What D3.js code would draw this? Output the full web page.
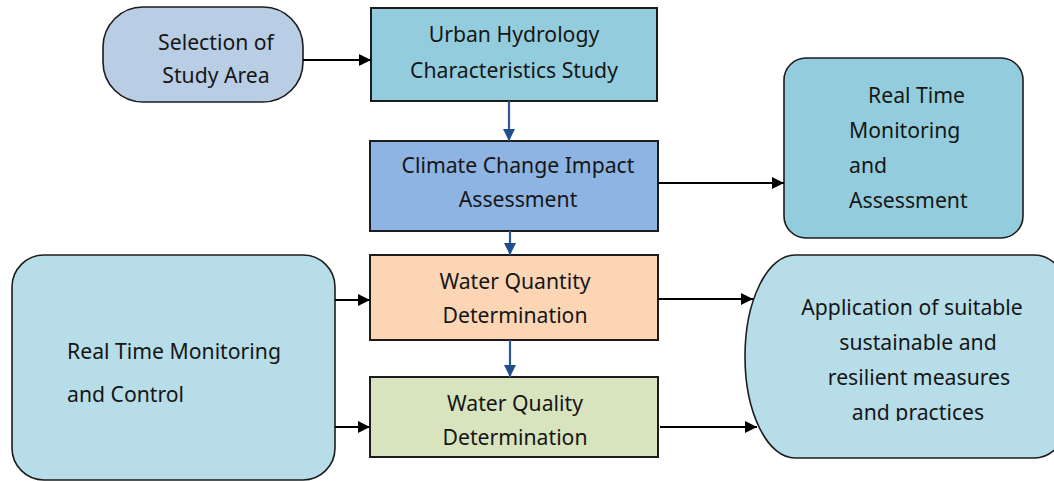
<!DOCTYPE html>
<html>
<head>
<meta charset="utf-8">
<script src="https://cdn.jsdelivr.net/npm/d3@7"></script>
<style>
  body { margin: 0; background: #fff; }
  svg { display: block; }
</style>
</head>
<body>
<svg id="chart" width="1054" height="481"></svg>
<script>
// node ids and labels (one entry per text line)
var nodeIds = ["select", "urban", "climate", "rtma", "quantity", "quality", "rtmc", "apply"];
var nodeLabels = [
  ["Selection of", "Study Area"],
  ["Urban Hydrology", "Characteristics Study"],
  ["Climate Change Impact", "Assessment"],
  ["Real Time", "Monitoring", "and", "Assessment"],
  ["Water Quantity", "Determination"],
  ["Water Quality", "Determination"],
  ["Real Time Monitoring", "and Control"],
  ["Application of suitable", "sustainable and", "resilient measures", "and practices"]
];
// links between nodes
var linkFrom = ["select", "urban", "climate", "climate", "quantity", "rtmc", "rtmc", "quantity", "quality"];
var linkTo   = ["urban", "climate", "rtma", "quantity", "quality", "quantity", "quality", "apply", "apply"];

// layout (kept apart from the data)
var layout = {
  select:   {x: 103, y: 7,   w: 200, h: 95,  shape: "pill",  fill: "#b9cde5", anchor: "middle", tx: 216, ty: [43, 76]},
  urban:    {x: 371, y: 8,   w: 286, h: 93,  shape: "rect",  fill: "#93cddd", anchor: "middle", tx: 514, ty: [35, 71]},
  climate:  {x: 370, y: 141, w: 288, h: 90,  shape: "rect",  fill: "#8eb4e3", anchor: "middle", tx: 518, ty: [166, 200]},
  rtma:     {x: 784, y: 58,  w: 239, h: 180, shape: "round", r: 22, fill: "#93cddd", anchor: "start", tx: [868, 849, 849, 849], ty: [96, 131, 166, 201]},
  quantity: {x: 370, y: 255, w: 288, h: 85,  shape: "rect",  fill: "#fcd5b5", anchor: "middle", tx: 515, ty: [282, 316]},
  quality:  {x: 370, y: 377, w: 288, h: 80,  shape: "rect",  fill: "#d7e4bd", anchor: "middle", tx: 515, ty: [404, 438]},
  rtmc:     {x: 12,  y: 255, w: 323, h: 225, shape: "round", r: 32, fill: "#b7dee8", anchor: "start", tx: [67, 67], ty: [352, 395]},
  apply:    {x: 745, y: 255, w: 340, h: 203, shape: "term",  fill: "#b7dee8", anchor: "middle", tx: [912, 918, 919, 918], ty: [308, 343, 378, 413]}
};
var linkLayout = [
  {x1: 303, y1: 60,  x2: 371, y2: 60,  color: "#000"},
  {x1: 509, y1: 101, x2: 509, y2: 141, color: "#2e5a92"},
  {x1: 658, y1: 183, x2: 784, y2: 183, color: "#000"},
  {x1: 510, y1: 231, x2: 510, y2: 255, color: "#2e5a92"},
  {x1: 510, y1: 340, x2: 510, y2: 377, color: "#2e5a92"},
  {x1: 335, y1: 300, x2: 370, y2: 300, color: "#000"},
  {x1: 335, y1: 427, x2: 370, y2: 427, color: "#000"},
  {x1: 658, y1: 299, x2: 753, y2: 299, color: "#000"},
  {x1: 660, y1: 427, x2: 757, y2: 427, color: "#000"}
];

var svg = d3.select("#chart");
var nodes = nodeIds.map(function(id, i){ return {id: id, lines: nodeLabels[i], L: layout[id]}; });
var links = linkFrom.map(function(f, i){ return {from: f, to: linkTo[i], L: linkLayout[i]}; });

// arrow markers
var defs = svg.append("defs");
["#000", "#1f4e8c"].forEach(function(c, i){
  defs.append("marker")
    .attr("id", "arr" + i)
    .attr("viewBox", "0 0 10 10")
    .attr("refX", 10).attr("refY", 5)
    .attr("markerWidth", 12).attr("markerHeight", 12)
    .attr("markerUnits", "userSpaceOnUse")
    .attr("orient", "auto")
    .append("path")
    .attr("d", "M0,0 L10,5 L0,10 Z")
    .attr("fill", c);
});
defs.append("clipPath").attr("id", "clipApply")
  .append("rect").attr("x", 700).attr("y", 250).attr("width", 400).attr("height", 171);

function shapePath(L) {
  var p = d3.path();
  var x0 = L.x, y0 = L.y, x1 = L.x + L.w, y1 = L.y + L.h;
  if (L.shape === "term") {
    var rx = 50, ry = L.h / 2;
    return "M" + (x0 + rx) + "," + y0 + " L" + (x1 - rx) + "," + y0 +
      " A" + rx + "," + ry + " 0 0 1 " + (x1 - rx) + "," + y1 +
      " L" + (x0 + rx) + "," + y1 +
      " A" + rx + "," + ry + " 0 0 1 " + (x0 + rx) + "," + y0 + " Z";
  }
  var r = L.shape === "pill" ? 40 : (L.shape === "round" ? L.r : 0);
  p.moveTo(x0 + r, y0);
  p.lineTo(x1 - r, y0);
  if (r) p.arcTo(x1, y0, x1, y0 + r, r);
  p.lineTo(x1, y1 - r);
  if (r) p.arcTo(x1, y1, x1 - r, y1, r);
  p.lineTo(x0 + r, y1);
  if (r) p.arcTo(x0, y1, x0, y1 - r, r);
  p.lineTo(x0, y0 + r);
  if (r) p.arcTo(x0, y0, x0 + r, y0, r);
  p.closePath();
  return p.toString();
}

// boxes
var g = svg.selectAll("g.node")
  .data(nodes)
  .enter().append("g")
  .attr("class", "node");

g.append("path")
  .attr("d", function(d){ return shapePath(d.L); })
  .attr("fill", function(d){ return d.L.fill; })
  .attr("stroke", "#1c1c1c")
  .attr("stroke-width", function(d){ return d.L.shape === "rect" ? 2 : 1.6; });

g.each(function(d){
  var t = d3.select(this).append("g");
  if (d.id === "apply") t.attr("clip-path", "url(#clipApply)");
  t.selectAll("text")
    .data(d.lines)
    .enter().append("text")
    .attr("x", function(s, i){ return Array.isArray(d.L.tx) ? d.L.tx[i] : d.L.tx; })
    .attr("y", function(s, i){ return d.L.ty[i]; })
    .attr("dy", "0.35em")
    .attr("text-anchor", d.L.anchor)
    .style("font-family", "'Noto Sans', 'Open Sans', sans-serif")
    .style("font-size", "21.2px")
    .style("fill", "#161616")
    .text(function(s){ return s; });
});

// arrows
svg.selectAll("line.link")
  .data(links)
  .enter().append("line")
  .attr("class", "link")
  .attr("x1", function(d){ return d.L.x1; })
  .attr("y1", function(d){ return d.L.y1; })
  .attr("x2", function(d){ return d.L.x2; })
  .attr("y2", function(d){ return d.L.y2; })
  .attr("stroke", function(d){ return d.L.color === "#000" ? "#000" : "#2e5a92"; })
  .attr("stroke-width", function(d){ return d.L.color === "#000" ? 2 : 2.2; })
  .attr("marker-end", function(d){ return d.L.color === "#000" ? "url(#arr0)" : "url(#arr1)"; });
</script>
</body>
</html>
